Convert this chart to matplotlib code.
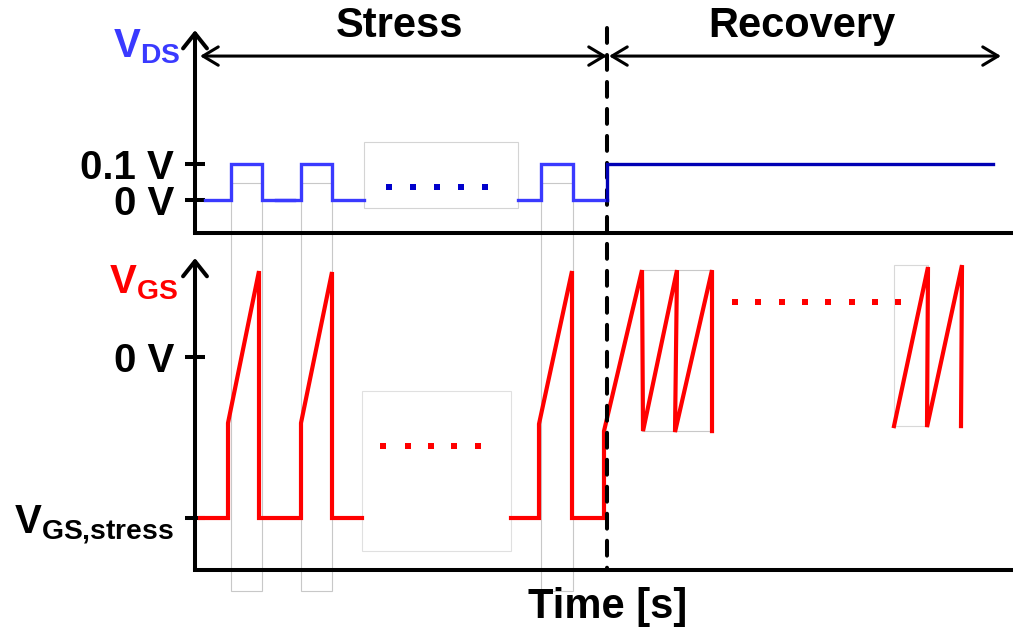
import matplotlib.pyplot as plt
from matplotlib.patches import Rectangle, ConnectionPatch

plt.rcParams['font.family'] = ['Liberation Sans', 'DejaVu Sans']
plt.rcParams['font.weight'] = 'bold'
plt.rcParams['mathtext.fontset'] = 'custom'
plt.rcParams['mathtext.rm'] = 'Liberation Sans:bold'
plt.rcParams['mathtext.bf'] = 'Liberation Sans:bold'
plt.rcParams['mathtext.it'] = 'Liberation Sans:bold'

# eixo de tempo em unidades arbitrarias
t_fim_stress = 41.2
t_fim = 80.6

# V_DS: pulsos durante o stress (cada trecho e uma lista)
vds_t = [[1.0, 3.6, 3.6, 6.7, 6.7, 9.9],
         [8.1, 10.6, 10.6, 13.7, 13.7, 16.9],
         [32.3, 34.6, 34.6, 37.8, 37.8, 41.2]]
vds_v = [0, 0, 0.1, 0.1, 0, 0]
vds_rec_t = [41.2, 41.2, 79.8]
vds_rec_v = [0, 0.1, 0.1]
vds_pontos_t = [19.4, 21.8, 24.2, 26.6, 29.0]
vds_pontos_v = 0.036

# V_GS: nivel de stress = -1, rampas de medida e recuperacao
vgs_t = [[0.5, 3.3, 3.3, 6.4, 6.4, 10.6, 10.6, 13.7, 13.7, 16.7],
         [31.6, 34.4, 34.4, 37.7, 37.7, 40.9, 40.9, 44.7, 44.8, 48.2, 48.0, 51.7, 51.7],
         [69.9, 73.3, 73.2, 76.7, 76.6]]
vgs_v = [[-1, -1, -0.41, 0.534, -1, -1, -0.41, 0.528, -1, -1],
         [-1, -1, -0.416, 0.534, -1, -1, -0.46, 0.54, -0.46, 0.54, -0.466, 0.54, -0.46],
         [-0.429, 0.559, -0.435, 0.571, -0.429]]
vgs_pontos_stress_t = [18.8, 21.3, 23.6, 25.9, 28.3]
vgs_pontos_stress_v = -0.553
vgs_pontos_rec_t = [54.0, 56.3, 58.7, 61.0, 63.3, 65.7, 68.0, 70.3]
vgs_pontos_rec_v = 0.342

azul = '#3a3aff'
azul_escuro = '#0000b4'
vermelho = '#ff0000'
cinza = '#c8c8c8'

W, H = 1013, 630
fig = plt.figure(figsize=(W / 100, H / 100), dpi=100)


def eixo_px(x0, x1, ytop, ybot):
    return fig.add_axes([x0 / W, 1 - ybot / H, (x1 - x0) / W, (ybot - ytop) / H])


ax1 = eixo_px(195, 1013, 28, 233)
ax1.set_xlim(0, 81.8)
ax1.set_ylim(-0.0917, 0.478)
ax2 = eixo_px(195, 1013, 255, 570)
ax2.set_xlim(0, 81.8)
ax2.set_ylim(-1.323, 0.634)
ax1.set_zorder(2)

seta_eixo = dict(arrowstyle='->,head_length=0.54,head_width=0.43', lw=2.9, color='k',
                 shrinkA=0, shrinkB=0, mutation_scale=20)
for ax, topo in [(ax1, 0.472), (ax2, 0.615)]:
    ax.set_facecolor('none')
    for lado in ['top', 'right', 'left']:
        ax.spines[lado].set_visible(False)
    ax.spines['bottom'].set_linewidth(2.9)
    ax.set_xticks([])
    ax.tick_params(axis='y', direction='inout', length=14, width=2.9, pad=8, labelsize=29)
    ymin = ax.get_ylim()[0]
    ax.annotate('', xy=(0, topo), xytext=(0, ymin), arrowprops=seta_eixo, annotation_clip=False)

# painel V_DS
ax1.set_yticks([0, 0.1], ['0 V', '0.1 V'])
for tt in vds_t:
    ax1.plot(tt, vds_v, color=azul, lw=2.4, solid_joinstyle='miter')
ax1.plot(vds_rec_t, vds_rec_v, color=azul_escuro, lw=2.4, solid_joinstyle='miter')
ax1.plot(vds_pontos_t, [vds_pontos_v] * len(vds_pontos_t), 's', color='#0000cc', ms=4.5, mew=0)
ax1.text(-1.5, 0.397, r'$\mathbf{V}_{\mathbf{DS}}$', color=azul, fontsize=29,
         ha='right', va='baseline', clip_on=False)

# caixa em volta das reticencias
ax1.add_patch(Rectangle((vds_t[1][-1], -0.022), vds_t[2][0] - vds_t[1][-1], 0.183,
                        fill=False, ec='#d4d4d4', lw=0.8, zorder=0))

# setas Stress / Recovery
seta_dupla = dict(arrowstyle='<->,head_length=0.55,head_width=0.33', lw=2.2, color='k',
                  shrinkA=0, shrinkB=0, mutation_scale=20)
ax1.annotate('', xy=(0.5, 0.4), xytext=(t_fim_stress, 0.4), arrowprops=seta_dupla,
             annotation_clip=False)
ax1.annotate('', xy=(t_fim_stress + 0.2, 0.4), xytext=(t_fim, 0.4), arrowprops=seta_dupla,
             annotation_clip=False)
ax1.text(20.5, 0.453, 'Stress', fontsize=30, ha='center', va='baseline')
ax1.text(60.7, 0.453, 'Recovery', fontsize=30, ha='center', va='baseline')

# painel V_GS
ax2.set_yticks([-1, 0], [r'$\mathbf{V}_{\mathbf{GS{,}stress}}$', '0 V'])
for tt, vv in zip(vgs_t, vgs_v):
    ax2.plot(tt, vv, color=vermelho, lw=3.0, solid_joinstyle='miter')
ax2.plot(vgs_pontos_stress_t, [vgs_pontos_stress_v] * len(vgs_pontos_stress_t), 's',
         color=vermelho, ms=4.5, mew=0)
ax2.plot(vgs_pontos_rec_t, [vgs_pontos_rec_v] * len(vgs_pontos_rec_t), 's',
         color=vermelho, ms=4.5, mew=0)
ax2.text(-1.7, 0.398, r'$\mathbf{V}_{\mathbf{GS}}$', color=vermelho, fontsize=29,
         ha='right', va='baseline', clip_on=False)

# contornos cinza dos blocos copiados
for tt in vds_t:
    ax2.add_patch(Rectangle((tt[1], -1.453), tt[3] - tt[1], 2.533, fill=False, ec=cinza,
                            lw=0.8, zorder=0, clip_on=False))
ax2.add_patch(Rectangle((vgs_t[0][-1], -1.205), vgs_t[1][0] - vgs_t[0][-1], 0.994,
                        fill=False, ec='#e0e0e0', lw=0.8, zorder=0))
ax2.add_patch(Rectangle((vgs_t[1][7], vgs_v[1][8]), vgs_t[1][-1] - vgs_t[1][7], 1.0,
                        fill=False, ec=cinza, lw=0.8, zorder=0))
ax2.add_patch(Rectangle((vgs_t[2][0], vgs_v[2][0]), vgs_t[2][1] - vgs_t[2][0], 1.0,
                        fill=False, ec='#d8d8d8', lw=0.8, zorder=0))

# linha tracejada separando stress e recovery
linha = ConnectionPatch(xyA=(t_fim_stress, 0.478), coordsA=ax1.transData,
                        xyB=(t_fim_stress, -1.323), coordsB=ax2.transData,
                        color='k', lw=2.9, linestyle=(0, (3.7, 3.0)))
fig.add_artist(linha)

fig.text(608 / W, 1 - 618 / H, 'Time [s]', fontsize=30, ha='center', va='baseline')

fig.savefig('out.png', dpi=100)
